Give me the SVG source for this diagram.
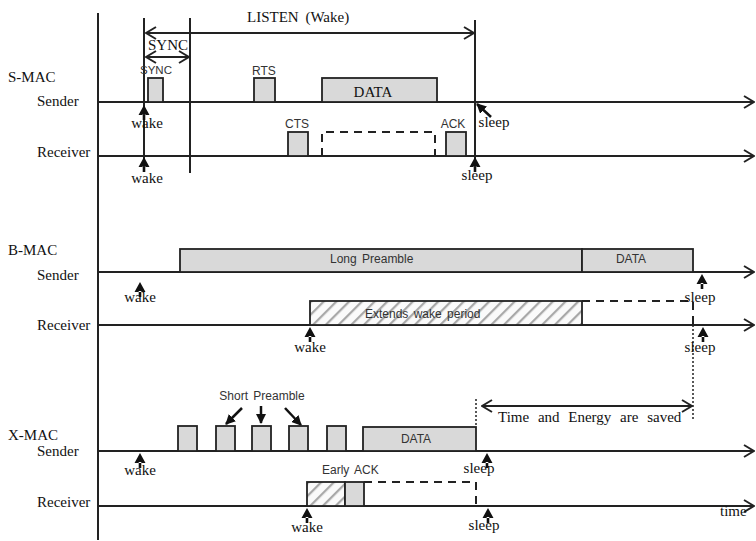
<svg xmlns="http://www.w3.org/2000/svg" width="756" height="541" viewBox="0 0 756 541">
<defs>
<style>
.serif{font-family:"Liberation Serif","Times New Roman",serif;font-size:15px;fill:#111}
.sans{font-family:"Liberation Sans",Arial,sans-serif;font-size:12px;fill:#333}
.mid{text-anchor:middle}
.ln{stroke:#222;stroke-width:2;fill:none}
.tl{stroke:#222;stroke-width:2;fill:none;marker-end:url(#chev)}
.dbl{stroke:#222;stroke-width:2;fill:none;marker-start:url(#chev);marker-end:url(#chev)}
.box{fill:#d9d9d9;stroke:#222;stroke-width:1.8}
.hbox{fill:url(#hatch);stroke:#222;stroke-width:1.8}
.dash{fill:none;stroke:#222;stroke-width:2;stroke-dasharray:8 6}
.dot{fill:none;stroke:#222;stroke-width:1.5;stroke-dasharray:2 2}
.pt{stroke:#111;stroke-width:2.5;fill:none;marker-end:url(#tri)}
.ar{fill:#111}
</style>
<marker id="chev" viewBox="0 0 12 14" refX="11" refY="7" markerWidth="12" markerHeight="14" markerUnits="userSpaceOnUse" orient="auto-start-reverse"><path d="M1,1 L11,7 L1,13" fill="none" stroke="#222" stroke-width="2"/></marker>
<marker id="tri" viewBox="0 0 10 10" refX="9" refY="5" markerWidth="10" markerHeight="10" markerUnits="userSpaceOnUse" orient="auto"><path d="M0,0 L10,5 L0,10 Z" fill="#111"/></marker>
<pattern id="hatch" patternUnits="userSpaceOnUse" width="9" height="9" patternTransform="rotate(45)"><rect width="9" height="9" fill="#fafafa"/><line x1="1" y1="0" x2="1" y2="9" stroke="#a8a8a8" stroke-width="2.5"/></pattern>
<path id="up" d="M0,0 L-5.5,10 L5.5,10 Z M-1.3,9 H1.3 V15 H-1.3 Z"/>
</defs>
<rect width="756" height="541" fill="#fff"/>

<g id="connectors">
  <line class="ln" x1="98" y1="13" x2="98" y2="540"/>
  <line class="ln" x1="144" y1="18" x2="144" y2="168"/>
  <line class="ln" x1="190" y1="18" x2="190" y2="173"/>
  <line class="ln" x1="475" y1="20" x2="475" y2="168"/>
  <line class="dbl" x1="146" y1="33" x2="474" y2="33"/>
  <line class="dbl" x1="146" y1="57" x2="189" y2="57"/>
  <line class="tl" x1="98" y1="102" x2="754" y2="102"/>
  <line class="tl" x1="98" y1="156" x2="754" y2="156"/>
  <line class="tl" x1="98" y1="272" x2="754" y2="272"/>
  <line class="tl" x1="98" y1="325" x2="754" y2="325"/>
  <line class="tl" x1="98" y1="451" x2="754" y2="451"/>
  <line class="tl" x1="98" y1="506" x2="754" y2="506"/>
  <path class="dot" d="M693,325 V421"/>
  <path class="dot" d="M476,399 V427"/>
  <line class="dbl" x1="482" y1="406" x2="692" y2="406"/>
  <line class="pt" x1="491" y1="117" x2="477" y2="104"/>
  <line class="pt" x1="242" y1="408" x2="226" y2="424"/>
  <line class="pt" x1="261" y1="406" x2="261" y2="423"/>
  <line class="pt" x1="285" y1="408" x2="301" y2="425"/>
</g>

<g id="labels">
  <text class="serif" x="8" y="82">S-MAC</text>
  <text class="serif" x="37" y="106">Sender</text>
  <text class="serif" x="37" y="157">Receiver</text>
  <text class="serif" x="8" y="255">B-MAC</text>
  <text class="serif" x="37" y="280">Sender</text>
  <text class="serif" x="37" y="330">Receiver</text>
  <text class="serif" x="8" y="440">X-MAC</text>
  <text class="serif" x="37" y="456">Sender</text>
  <text class="serif" x="37" y="507">Receiver</text>
  <text class="serif" x="247" y="22" word-spacing="3">LISTEN (Wake)</text>
  <text class="serif mid" x="168" y="50">SYNC</text>
  <text class="serif" x="498" y="422" word-spacing="5">Time and Energy are saved</text>
  <text class="serif" x="720" y="516">time</text>
</g>

<g id="smac-sync"><rect class="box" x="148" y="78" width="15" height="24"/><text class="sans mid" x="156" y="74" style="font-size:11.5px">SYNC</text></g>
<g id="smac-rts"><rect class="box" x="254" y="78" width="21" height="24"/><text class="sans mid" x="264" y="75">RTS</text></g>
<g id="smac-data"><rect class="box" x="322" y="78" width="115" height="24"/><text class="serif mid" x="373" y="97">DATA</text></g>
<g id="smac-cts"><rect class="box" x="288" y="132" width="20" height="24"/><text class="sans mid" x="297" y="128">CTS</text></g>
<g id="smac-rx-data"><path class="dash" d="M322,156 V132 H435 V156"/></g>
<g id="smac-ack"><rect class="box" x="446" y="132" width="20" height="24"/><text class="sans mid" x="453" y="128">ACK</text></g>

<g id="bmac-preamble"><rect class="box" x="180" y="249" width="402" height="23"/><text class="sans" x="330" y="263" word-spacing="2">Long Preamble</text></g>
<g id="bmac-data"><rect class="box" x="582" y="249" width="111" height="23"/><text class="sans mid" x="631" y="263">DATA</text></g>
<g id="bmac-extend"><rect class="hbox" x="310" y="301" width="272" height="24"/><text class="sans" x="365" y="318" word-spacing="2">Extends wake period</text></g>
<g id="bmac-rx-data"><path class="dash" d="M582,301 H693 V325"/></g>

<g id="xmac-preambles">
  <rect class="box" x="178" y="426" width="19" height="25"/>
  <rect class="box" x="216" y="426" width="19" height="25"/>
  <rect class="box" x="252" y="426" width="19" height="25"/>
  <rect class="box" x="289" y="426" width="19" height="25"/>
  <rect class="box" x="327" y="426" width="19" height="25"/>
  <text class="sans mid" x="262" y="400" word-spacing="2">Short Preamble</text>
</g>
<g id="xmac-data"><rect class="box" x="363" y="427" width="113" height="24"/><text class="sans mid" x="416" y="443">DATA</text></g>
<g id="xmac-rx-wake"><rect class="hbox" x="307" y="482" width="38" height="24"/></g>
<g id="xmac-early-ack"><rect class="box" x="345" y="482" width="19" height="24"/><text class="sans" x="322" y="474" word-spacing="2">Early ACK</text></g>
<g id="xmac-rx-data"><path class="dash" d="M364,482 H476 V506"/></g>

<g id="events">
  <use href="#up" class="ar" x="144" y="105"/><text class="serif mid" x="147" y="128">wake</text>
  <use href="#up" class="ar" x="144" y="157"/><text class="serif mid" x="147" y="183">wake</text>
  <text class="serif mid" x="494" y="127">sleep</text>
  <use href="#up" class="ar" x="475" y="157"/><text class="serif mid" x="477" y="180">sleep</text>

  <use href="#up" class="ar" x="140" y="282"/><text class="serif mid" x="140" y="302">wake</text>
  <use href="#up" class="ar" x="310" y="327"/><text class="serif mid" x="310" y="352">wake</text>
  <use href="#up" class="ar" x="702" y="274"/><text class="serif mid" x="700" y="302">sleep</text>
  <use href="#up" class="ar" x="703" y="327"/><text class="serif mid" x="700" y="352">sleep</text>

  <use href="#up" class="ar" x="140" y="453"/><text class="serif mid" x="140" y="475">wake</text>
  <use href="#up" class="ar" x="307" y="508"/><text class="serif mid" x="307" y="532">wake</text>
  <use href="#up" class="ar" x="487" y="453"/><text class="serif mid" x="479" y="473">sleep</text>
  <use href="#up" class="ar" x="488" y="508"/><text class="serif mid" x="484" y="530">sleep</text>
</g>
</svg>
